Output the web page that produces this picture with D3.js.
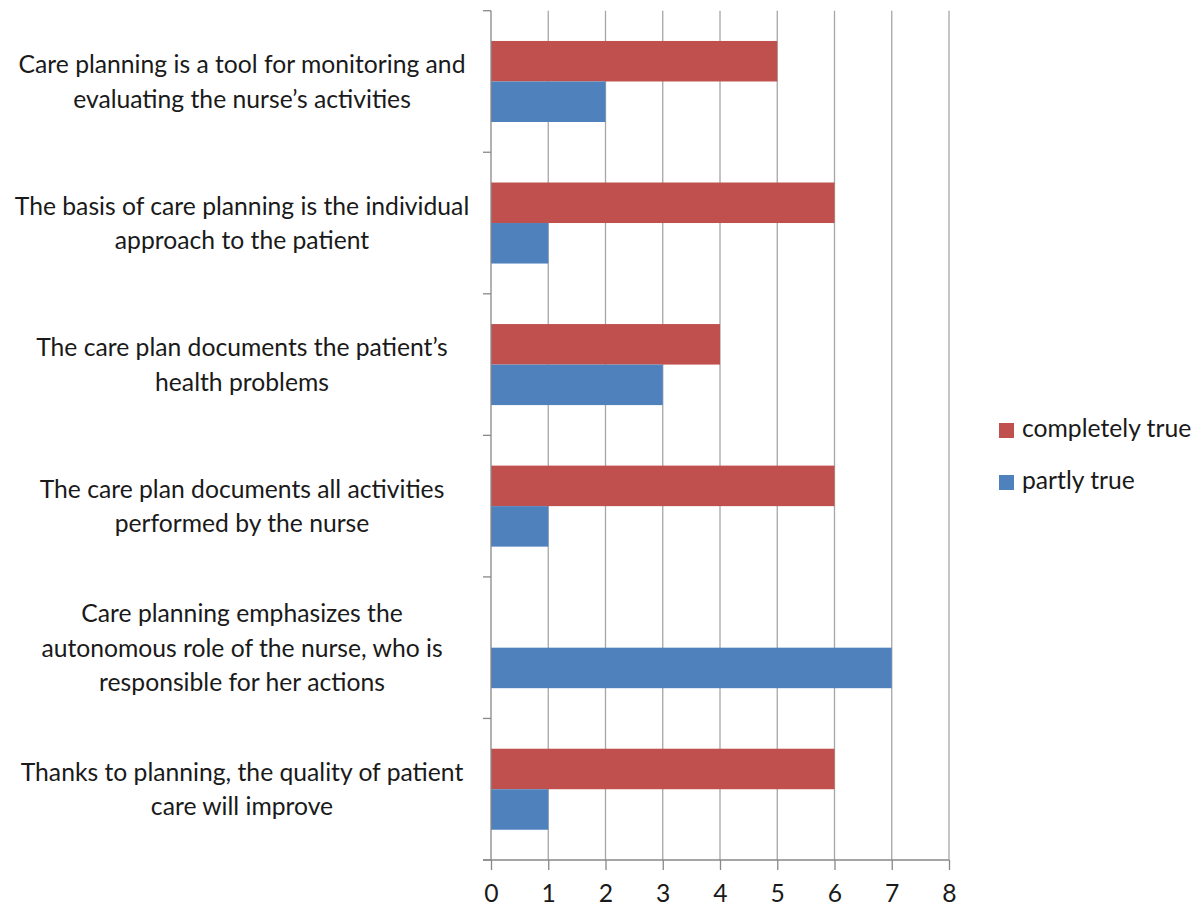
<!DOCTYPE html>
<html>
<head>
<meta charset="utf-8">
<script src="https://cdn.jsdelivr.net/npm/d3@7"></script>
<style>
  html, body { margin: 0; padding: 0; background: #fff; }
  svg { display: block; }
  text { font-family: Lato, "Open Sans", sans-serif; fill: #1a1a1a; }
</style>
</head>
<body>
<svg id="chart" width="1198" height="907"></svg>
<script>
// Survey statements (top to bottom), split into display lines
const categories = [
  ["Care planning is a tool for monitoring and", "evaluating the nurse\u2019s activities"],
  ["The basis of care planning is the individual", "approach to the patient"],
  ["The care plan documents the patient\u2019s", "health problems"],
  ["The care plan documents all activities", "performed by the nurse"],
  ["Care planning emphasizes the", "autonomous role of the nurse, who is", "responsible for her actions"],
  ["Thanks to planning, the quality of patient", "care will improve"]
];
const seriesNames = ["completely true", "partly true"];
const completelyTrue = [5, 6, 4, 6, 0, 6];
const partlyTrue = [2, 1, 3, 1, 7, 1];
const xTicks = [0, 1, 2, 3, 4, 5, 6, 7, 8];
const colors = ["#C0504D", "#4F81BD"];

const seriesValues = [completelyTrue, partlyTrue];
const rows = categories.map((lines, i) => ({
  key: i,
  lines,
  values: seriesNames.map((s, j) => ({ series: s, value: seriesValues[j][i], color: colors[j] }))
}));

const fontSize = 24.7;
const svg = d3.select("#chart");
const plot = { left: 491, right: 949, top: 10.7, bottom: 860 };

const x = d3.scaleLinear().domain([0, 8]).range([plot.left, plot.right]);
const y0 = d3.scaleBand().domain(rows.map(r => r.key)).range([plot.top, plot.bottom]).padding(0);
const bw = y0.bandwidth();
const y1 = d3.scaleBand().domain(seriesNames).range([bw * 0.2138, bw * 0.7862]).padding(0);

// vertical gridlines
svg.append("g")
  .selectAll("line")
  .data(xTicks.filter(t => t > 0))
  .join("line")
  .attr("x1", d => x(d)).attr("x2", d => x(d))
  .attr("y1", plot.top).attr("y2", plot.bottom)
  .attr("stroke", "#a6a6a6").attr("stroke-width", 1.3);

// bars
const groups = svg.append("g")
  .selectAll("g")
  .data(rows)
  .join("g")
  .attr("transform", d => `translate(0,${y0(d.key)})`);

groups.selectAll("rect")
  .data(d => d.values.filter(v => v.value > 0))
  .join("rect")
  .attr("x", x(0))
  .attr("y", d => y1(d.series))
  .attr("width", d => x(d.value) - x(0))
  .attr("height", y1.bandwidth())
  .attr("fill", d => d.color);

// category axis (left)
const yAxisG = svg.append("g");
yAxisG.append("line")
  .attr("x1", x(0)).attr("x2", x(0))
  .attr("y1", plot.top).attr("y2", plot.bottom)
  .attr("stroke", "#888").attr("stroke-width", 1.3);
const boundaries = rows.map(r => y0(r.key)).concat([plot.bottom]);
yAxisG.selectAll("line.tick")
  .data(boundaries)
  .join("line")
  .attr("class", "tick")
  .attr("x1", x(0) - 8).attr("x2", x(0))
  .attr("y1", d => d).attr("y2", d => d)
  .attr("stroke", "#888").attr("stroke-width", 1.3);

// category labels, centred as multi-line blocks beside each band
const lineH = 34.5;
const labelCx = 242;
yAxisG.selectAll("text.cat")
  .data(rows)
  .join("text")
  .attr("class", "cat")
  .attr("text-anchor", "middle")
  .attr("font-size", fontSize)
  .each(function(d) {
    const cy = y0(d.key) + bw / 2;
    const n = d.lines.length;
    const first = cy - (n - 1) * lineH / 2 + 9;
    d3.select(this).selectAll("tspan")
      .data(d.lines)
      .join("tspan")
      .attr("x", labelCx)
      .attr("y", (l, i) => first + i * lineH)
      .text(l => l);
  });

// value axis (bottom)
const xAxis = d3.axisBottom(x).tickValues(xTicks).tickSize(10).tickPadding(14).tickFormat(d3.format("d"));
const xAxisG = svg.append("g")
  .attr("transform", `translate(0,${plot.bottom})`)
  .call(xAxis);
xAxisG.select(".domain").remove();
xAxisG.append("line")
  .attr("x1", x(0) - 8).attr("x2", x(8))
  .attr("y1", 0).attr("y2", 0)
  .attr("stroke", "#888").attr("stroke-width", 1.3);
xAxisG.selectAll(".tick line").attr("stroke", "#888").attr("stroke-width", 1.3);
xAxisG.selectAll(".tick text")
  .attr("font-size", fontSize)
  .attr("fill", "#1a1a1a")
  .style("font-family", "Lato, sans-serif");

// legend
const legend = svg.append("g").attr("transform", "translate(999,423)");
const items = legend.selectAll("g")
  .data(seriesNames)
  .join("g")
  .attr("transform", (d, i) => `translate(0,${i * 52})`);
items.append("rect")
  .attr("width", 15).attr("height", 15)
  .attr("fill", (d, i) => colors[i]);
items.append("text")
  .attr("x", 23).attr("y", 14)
  .attr("font-size", fontSize)
  .text(d => d);
</script>
</body>
</html>
